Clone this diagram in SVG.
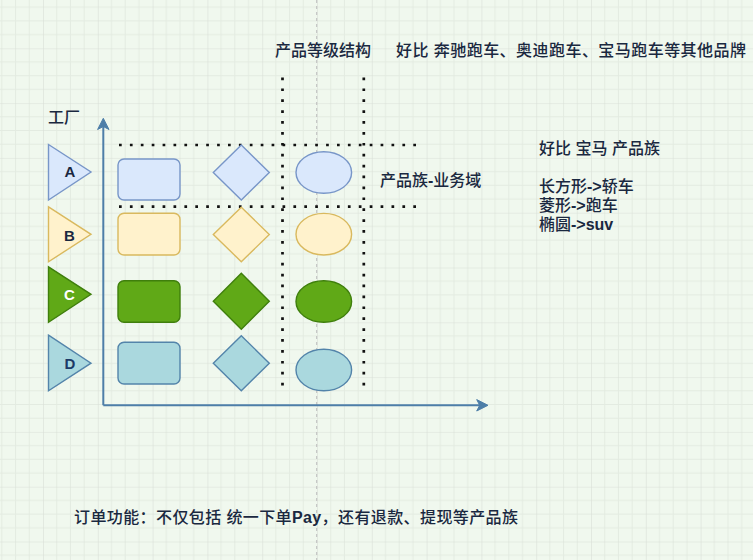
<svg xmlns="http://www.w3.org/2000/svg" width="753" height="560" viewBox="0 0 753 560">
<defs>
<pattern id="grid" patternUnits="userSpaceOnUse" x="43" y="48.3" width="54.8" height="54.8">
<path d="M13.7 0V54.8M27.4 0V54.8M41.1 0V54.8M0 13.7H54.8M0 27.4H54.8M0 41.1H54.8" stroke="#e3ebe1" stroke-width="1" fill="none"/>
<path d="M0 0V54.8M0 0H54.8" stroke="#d9dfd7" stroke-width="1.2" fill="none"/>
</pattern>
<style>
text{font-family:"Liberation Sans","Noto Sans CJK SC",sans-serif;fill:#1a2840;font-size:16px;font-weight:500}
.lbl{font-weight:bold;font-size:15px;text-anchor:middle}
.b{font-weight:bold}
.axis{stroke:#4d7ea8;stroke-width:2;fill:none}
.head{fill:#4d7ea8;stroke:#4d7ea8;stroke-width:1;stroke-linejoin:round}
.dot{stroke:#111;stroke-width:2.7;stroke-dasharray:2.7 8.2;fill:none}
.sA{fill:#dae8fc;stroke:#7896c8;stroke-width:1.4}
.sB{fill:#fff2cc;stroke:#d9b95e;stroke-width:1.4}
.sC{fill:#60a917;stroke:#3f7f0c;stroke-width:1.4}
.sD{fill:#aad8de;stroke:#5384aa;stroke-width:1.4}
</style>
</defs>
<rect width="753" height="560" fill="#f0f8ee"/>
<rect width="753" height="560" fill="url(#grid)"/>
<line x1="316.7" y1="0" x2="316.7" y2="560" stroke="#bdbdbd" stroke-width="1" stroke-dasharray="3 3"/>

<g id="connectors">
<path class="axis" d="M103.3 405.3V124"/>
<polygon class="head" points="103.3,118.3 109,129.5 103.3,126.5 97.6,129.5"/>
<path class="axis" d="M103.3 405.3H482"/>
<polygon class="head" points="488,405.3 476.7,411 479.7,405.3 476.7,399.6"/>
<path class="dot" d="M119 145H419"/>
<path class="dot" d="M119 206.7H419"/>
<path class="dot" d="M282.5 77.5V388"/>
<path class="dot" d="M363.8 77.5V388"/>
</g>

<g id="factoryA"><polygon class="sA" points="48.5,144.5 91,172 48.5,200"/><text class="lbl" x="70" y="177.3">A</text></g>
<g id="factoryB"><polygon class="sB" points="48.5,206.8 91,234.3 48.5,261.8"/><text class="lbl" x="69.5" y="240.5">B</text></g>
<g id="factoryC"><polygon class="sC" points="48.5,266.8 91,294.3 48.5,322.3"/><text class="lbl" x="69.5" y="300" style="fill:#fff">C</text></g>
<g id="factoryD"><polygon class="sD" points="48.5,335.2 91,363.2 48.5,390.8"/><text class="lbl" x="70" y="369.3" style="fill:#1d3a66">D</text></g>

<g id="rectA"><rect class="sA" x="118" y="159" width="62" height="41" rx="6"/></g>
<g id="rectB"><rect class="sB" x="118" y="213.3" width="62" height="41.7" rx="6"/></g>
<g id="rectC"><rect class="sC" x="118" y="280.8" width="62" height="41.5" rx="6"/></g>
<g id="rectD"><rect class="sD" x="118" y="342.3" width="62" height="41.7" rx="6"/></g>

<g id="diamondA"><polygon class="sA" points="241.3,145 269.3,172.5 241.3,200 213.3,172.5"/></g>
<g id="diamondB"><polygon class="sB" points="241.3,207.3 269.3,234.5 241.3,261.7 213.3,234.5"/></g>
<g id="diamondC"><polygon class="sC" points="241.3,273.3 269.3,301.3 241.3,329.3 213.3,301.3"/></g>
<g id="diamondD"><polygon class="sD" points="241.3,335.7 269.3,363.2 241.3,390.7 213.3,363.2"/></g>

<g id="ellipseA"><ellipse class="sA" cx="323.8" cy="172.5" rx="27.8" ry="20.8"/></g>
<g id="ellipseB"><ellipse class="sB" cx="323.8" cy="234.2" rx="27.8" ry="20.8"/></g>
<g id="ellipseC"><ellipse class="sC" cx="323.8" cy="301.5" rx="27.8" ry="20.8"/></g>
<g id="ellipseD"><ellipse class="sD" cx="323.8" cy="370" rx="27.8" ry="20.8"/></g>

<g id="labels">
<text x="275" y="56">产品等级结构</text>
<text x="396" y="56" font-size="15" textLength="350" lengthAdjust="spacing">好比 奔驰跑车、奥迪跑车、宝马跑车等其他品牌</text>
<text x="48" y="123" font-size="15">工厂</text>
<text x="380" y="186">产品族<tspan class="b">-</tspan>业务域</text>
<text x="539" y="154">好比 宝马 产品族</text>
<text x="539" y="192">长方形<tspan class="b">-&gt;</tspan>轿车</text>
<text x="539" y="211">菱形<tspan class="b">-&gt;</tspan>跑车</text>
<text x="539" y="229.5">椭圆<tspan class="b">-&gt;suv</tspan></text>
<text x="74" y="523" textLength="444" lengthAdjust="spacing">订单功能：不仅包括 统一下单<tspan class="b">Pay</tspan>，还有退款、提现等产品族</text>
</g>
</svg>
